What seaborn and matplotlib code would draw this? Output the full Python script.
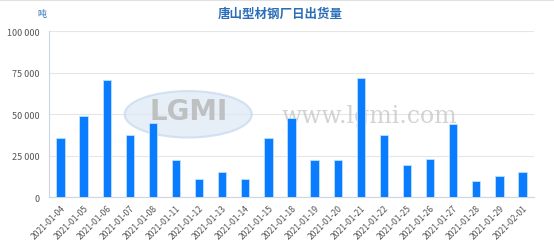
import matplotlib
matplotlib.use("Agg")
import matplotlib.pyplot as plt
import seaborn as sns
import pandas as pd
import numpy as np
from matplotlib.ticker import FuncFormatter, FixedLocator
from matplotlib.patches import Ellipse

dates = ["2021-01-04", "2021-01-05", "2021-01-06", "2021-01-07", "2021-01-08",
         "2021-01-11", "2021-01-12", "2021-01-13", "2021-01-14", "2021-01-15",
         "2021-01-18", "2021-01-19", "2021-01-20", "2021-01-21", "2021-01-22",
         "2021-01-25", "2021-01-26", "2021-01-27", "2021-01-28", "2021-01-29",
         "2021-02-01"]
values = [35700, 48800, 70800, 37700, 44800,
          22700, 10800, 15200, 11200, 35700,
          47600, 22300, 22300, 71700, 37700,
          19600, 23100, 44200, 9800, 12800,
          15000]
yticks = [0, 25000, 50000, 75000, 100000]

sns.set_style("white")
plt.rcParams['font.family'] = ['Noto Sans CJK SC', 'DejaVu Sans']

df = pd.DataFrame({"date": dates, "value": values})

fig = plt.figure(figsize=(5.54, 2.53), dpi=100)
ax = fig.add_axes([49/554, 1-198.3/253, (534-49)/554, (198.3-32.3)/253])

sns.barplot(data=df, x="date", y="value", ax=ax, color="#0a7cff", width=0.36,
            saturation=1, edgecolor="#bfe0ff", linewidth=0.6, zorder=3)

n = len(dates)
ax.set_xlim(-0.5, n - 0.5)
ax.set_ylim(0, 100000)
ax.set_yticks(yticks)
ax.yaxis.set_major_formatter(FuncFormatter(lambda v, p: f"{int(v):,}".replace(",", " ")))
ax.grid(axis="y", color="#e6e6e6", linewidth=0.8, zorder=0)
ax.set_axisbelow(True)
ax.set_xlabel("")
ax.set_ylabel("")

ax.set_xticks(range(n))
ax.set_xticklabels(dates, rotation=45, ha="right", rotation_mode="anchor",
                   fontsize=6.2, color="#555555")
ax.tick_params(axis="x", which="major", length=0, pad=4)
ax.xaxis.set_minor_locator(FixedLocator(np.arange(-0.5, n, 1.0)))
ax.tick_params(axis="x", which="minor", length=5, color="#ccd6eb", width=0.8)
ax.tick_params(axis="y", labelsize=6.5, labelcolor="#555555", length=5,
               color="#ccd6eb", width=0.8, pad=2)

for s in ["top", "right"]:
    ax.spines[s].set_visible(False)
for s in ["left", "bottom"]:
    ax.spines[s].set_color("#ccd6eb")
    ax.spines[s].set_linewidth(0.8)

# watermark
ell = Ellipse((0.287, 0.50), 0.262, 0.28, transform=ax.transAxes,
              facecolor="#dce8f5", edgecolor="#c5d8ee", linewidth=1.5,
              alpha=0.7, zorder=1)
ax.add_patch(ell)
ax.text(0.287, 0.52, "LGMI", transform=ax.transAxes, fontsize=20,
        color="#b8b8b8", ha="center", va="center", alpha=0.85, zorder=2,
        fontweight="bold", family="DejaVu Sans")
ax.text(0.48, 0.49, "www.lgmi.com", transform=ax.transAxes, fontsize=17,
        color="#c8c8c8", family="DejaVu Serif", ha="left", va="center",
        alpha=0.8, zorder=2)

fig.text(280/554, 1-14/253, "唐山型材钢厂日出货量", ha="center", va="center",
         fontsize=9, fontweight="bold", color="#2a6eb8")
fig.text(42/554, 1-15/253, "吨", ha="center", va="center", fontsize=6.5,
         color="#2a6eb8")
fig.add_artist(plt.Line2D([0, 1], [0.998, 0.998], color="#e0e0e0", linewidth=0.8,
                          transform=fig.transFigure))

fig.savefig("out.png", dpi=100)
